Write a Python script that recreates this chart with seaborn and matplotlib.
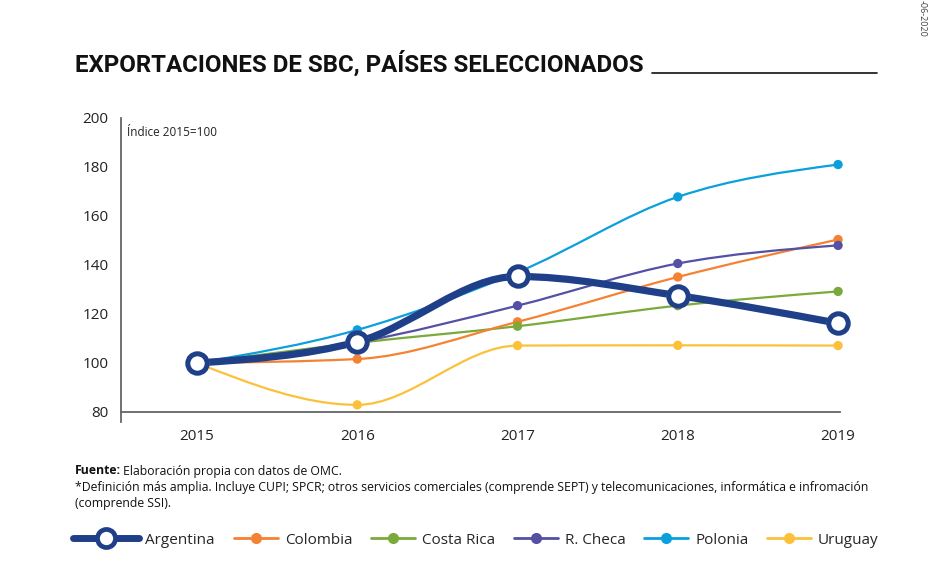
import numpy as np
import pandas as pd
import matplotlib.pyplot as plt
import seaborn as sns
from matplotlib.path import Path
from matplotlib.patches import PathPatch
from matplotlib.lines import Line2D

sns.set_style("white")
plt.rcParams['font.family'] = ['Open Sans', 'DejaVu Sans']

# Data (index 2015=100)
years = [2015, 2016, 2017, 2018, 2019]
argentina = [100, 108.6, 135.3, 127.5, 116.2]
colombia = [100, 101.6, 116.8, 135.1, 150.4]
costa_rica = [100, 108.2, 115.0, 123.4, 129.2]
r_checa = [100, 108.4, 123.4, 140.6, 148.0]
polonia = [100, 113.5, 137.0, 167.8, 181.0]
uruguay = [100, 82.9, 107.1, 107.2, 107.1]

countries = ['Argentina', 'Colombia', 'Costa Rica', 'R. Checa', 'Polonia', 'Uruguay']
colors = {'Argentina': '#1f3f88', 'Colombia': '#f58233', 'Costa Rica': '#7aaa3a',
          'R. Checa': '#5450a4', 'Polonia': '#0ba0dc', 'Uruguay': '#fbc13a'}

df = pd.DataFrame({'year': years, 'Argentina': argentina, 'Colombia': colombia,
                   'Costa Rica': costa_rica, 'R. Checa': r_checa,
                   'Polonia': polonia, 'Uruguay': uruguay})
long = df.melt(id_vars='year', var_name='pais', value_name='indice')


def smooth_path(x, y):
    # monotone-x curve (like d3.curveMonotoneX) as bezier segments
    x = np.asarray(x, float)
    y = np.asarray(y, float)
    n = len(x)
    h = np.diff(x)
    s = np.diff(y) / h
    m = np.zeros(n)
    for i in range(1, n - 1):
        p = (s[i - 1] * h[i] + s[i] * h[i - 1]) / (h[i - 1] + h[i])
        m[i] = (np.sign(s[i - 1]) + np.sign(s[i])) * min(abs(s[i - 1]), abs(s[i]), 0.5 * abs(p))
    m[0] = (3 * s[0] - m[1]) / 2
    m[-1] = (3 * s[-1] - m[-2]) / 2
    verts = [(x[0], y[0])]
    codes = [Path.MOVETO]
    for i in range(n - 1):
        d = h[i] / 3
        verts += [(x[i] + d, y[i] + m[i] * d),
                  (x[i + 1] - d, y[i + 1] - m[i + 1] * d),
                  (x[i + 1], y[i + 1])]
        codes += [Path.CURVE4] * 3
    return Path(verts, codes)


fig = plt.figure(figsize=(9.39, 5.73), dpi=100)
ax = fig.add_axes([121 / 939, 1 - 422 / 573, 719 / 939, 304 / 573])

# thin series
for c in ['Uruguay', 'Costa Rica', 'Colombia', 'R. Checa', 'Polonia']:
    ax.add_patch(PathPatch(smooth_path(df['year'], df[c]), fill=False,
                           edgecolor=colors[c], lw=1.6, zorder=2))
thin = long[long['pais'] != 'Argentina']
sns.scatterplot(data=thin, x='year', y='indice', hue='pais', palette=colors,
                s=45, edgecolor='none', legend=False, ax=ax, zorder=3, clip_on=False)

# Argentina
ax.add_patch(PathPatch(smooth_path(df['year'], df['Argentina']), fill=False,
                       edgecolor=colors['Argentina'], lw=5.2, zorder=4,
                       capstyle='round'))
ax.plot(df['year'], df['Argentina'], ls='none', marker='o', ms=17, mfc='white',
        mec='white', mew=0, zorder=5, clip_on=False)
ax.plot(df['year'], df['Argentina'], ls='none', marker='o', ms=14, mfc='white',
        mec=colors['Argentina'], mew=3.6, zorder=6, clip_on=False)

ax.set_xlim(2014.526, 2019.012)
ax.set_ylim(75.9, 200)
ax.set_xticks(years)
ax.set_xticklabels([str(y) for y in years])
ax.set_yticks([80, 100, 120, 140, 160, 180, 200])
ax.set_xlabel('')
ax.set_ylabel('')
for s in ['top', 'right']:
    ax.spines[s].set_visible(False)
ax.spines['bottom'].set_position(('data', 80))
for s in ['bottom', 'left']:
    ax.spines[s].set_color('#666666')
    ax.spines[s].set_linewidth(1.3)
ax.tick_params(axis='both', direction='out', length=7, width=1.1, color='#444444',
               labelsize=11, labelcolor='#222222')
ax.tick_params(axis='x', pad=5)
ax.tick_params(axis='y', pad=2)
ax.grid(False)

ax.text(0.008, 0.975, 'Índice 2015=100', transform=ax.transAxes, fontsize=8.5,
        color='#222222', va='top', ha='left')

# title + rule
fig.text(75 / 939, 1 - 64 / 573, 'EXPORTACIONES DE SBC, PAÍSES SELECCIONADOS',
         fontsize=17.3, fontweight='bold', family=['Roboto', 'DejaVu Sans'],
         va='center', ha='left', color='#111111')
fig.add_artist(Line2D([652 / 939, 877 / 939], [1 - 73 / 573] * 2, color='#111111', lw=1.2))

# date stamp
fig.text(918 / 939, 1.0, '-06-2020', rotation=270, fontsize=6.5, color='#444444',
         va='top', ha='left')

# footnotes
fig.text(75 / 939, 1 - 471 / 573, 'Fuente:', fontsize=8.8, fontweight='bold',
         va='center', ha='left', color='#111111')
fig.text(123 / 939, 1 - 471 / 573, 'Elaboración propia con datos de OMC.', fontsize=8.8,
         va='center', ha='left', color='#111111')
fig.text(75 / 939, 1 - 488 / 573,
         '*Definición más amplia. Incluye CUPI; SPCR; otros servicios comerciales (comprende SEPT) '
         'y telecomunicaciones, informática e infromación', fontsize=8.8, va='center',
         ha='left', color='#111111')
fig.text(75 / 939, 1 - 504 / 573, '(comprende SSI).', fontsize=8.8, va='center',
         ha='left', color='#111111')

# legend: Argentina with a longer handle, then the other five
h_arg = [Line2D([], [], color=colors['Argentina'], lw=5, marker='o', ms=13,
                mfc='white', mec=colors['Argentina'], mew=3.4)]
fig.legend(h_arg, countries[:1], loc='center left',
           bbox_to_anchor=(73 / 939, 1 - 540 / 573), frameon=False, fontsize=11,
           handlelength=4.3, handletextpad=0.4, borderaxespad=0, borderpad=0)
h_rest = [Line2D([], [], color=colors[c], lw=2, marker='o', ms=8, mec='none')
          for c in countries[1:]]
fig.legend(h_rest, countries[1:], loc='center left', bbox_to_anchor=(234 / 939, 1 - 540 / 573),
           ncol=5, frameon=False, fontsize=11, handlelength=2.9, handletextpad=0.45,
           columnspacing=1.2, borderaxespad=0, borderpad=0)

fig.savefig('out.png', dpi=100)
